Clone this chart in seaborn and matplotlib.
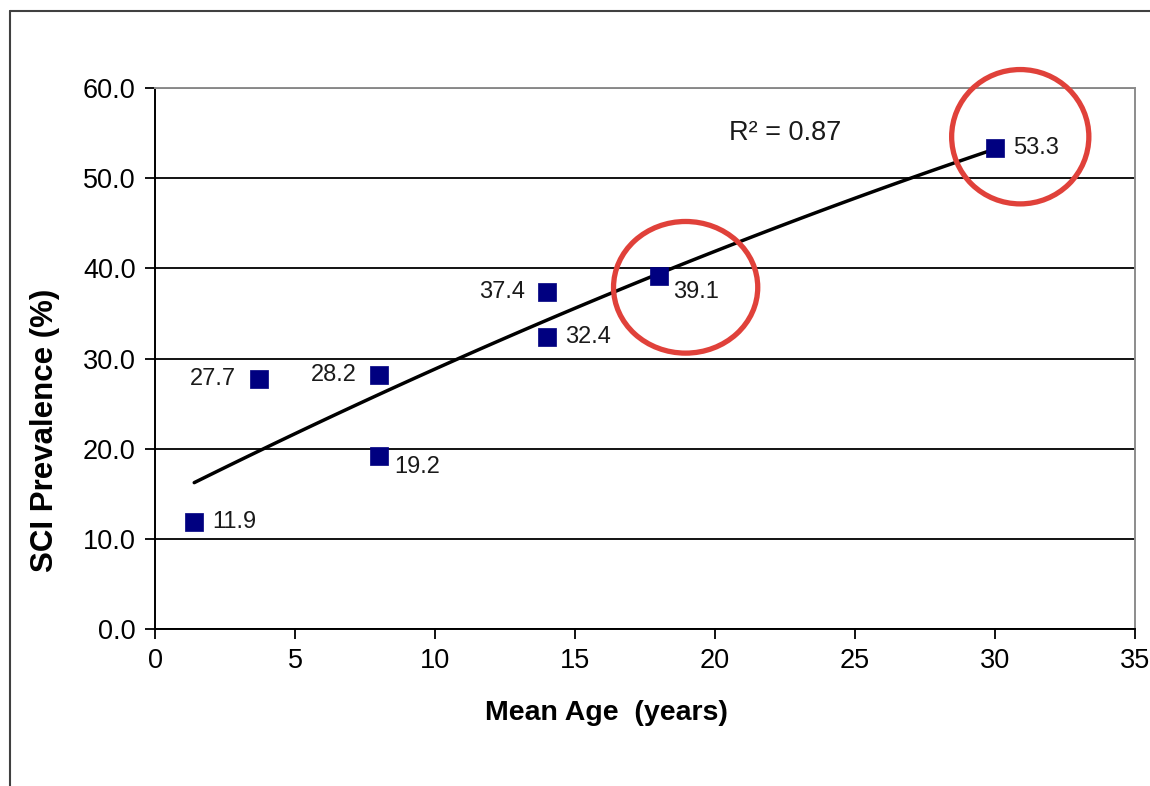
import numpy as np
import pandas as pd
import matplotlib.pyplot as plt
import seaborn as sns
from matplotlib.patches import Ellipse
from matplotlib.lines import Line2D

# data
mean_age = [1.4, 3.7, 8.0, 8.0, 14.0, 14.0, 18.0, 30.0]
prevalence = [11.9, 27.7, 28.2, 19.2, 37.4, 32.4, 39.1, 53.3]
# label offsets in points (dx, dy) and alignment per point
label_dx = [13, -16, -16, 11, -16, 13, 10, 13]
label_dy = [0, 0, 0, -8, 0, 0, -11, 0]
label_ha = ["left", "right", "right", "left", "right", "left", "left", "left"]
# highlighted points (circled in red): centre, width, height in data units
circle_x = [30.9, 18.95]
circle_y = [54.6, 37.9]
circle_w = [4.9, 5.15]
circle_h = [14.9, 14.6]

df = pd.DataFrame({"age": mean_age, "prev": prevalence})

sns.set_style("white")
plt.rcParams["font.family"] = ["Liberation Sans", "DejaVu Sans"]

fig = plt.figure(figsize=(11.5, 7.86), dpi=100)
ax = fig.add_axes([0.1348, 0.1997, 0.987 - 0.1348, 0.888 - 0.1997])

# quadratic trend line (Excel-style polynomial trendline)
sns.regplot(data=df, x="age", y="prev", order=2, ci=None, truncate=True,
            scatter=False, ax=ax, line_kws={"color": "black", "lw": 2.5})
coef = np.polyfit(df["age"], df["prev"], 2)
fit = np.polyval(coef, df["age"])
r2 = 1 - np.sum((df["prev"] - fit) ** 2) / np.sum((df["prev"] - df["prev"].mean()) ** 2)
print(f"R2 = {r2:.3f}")

sns.scatterplot(data=df, x="age", y="prev", marker="s", s=150, color="#000080",
                edgecolor="#000080", linewidth=0.5, ax=ax, zorder=5)

for x, y, dx, dy, ha in zip(mean_age, prevalence, label_dx, label_dy, label_ha):
    ax.annotate(f"{y:.1f}", (x, y), xytext=(dx, dy), textcoords="offset points",
                ha=ha, va="center", fontsize=17, color="#1a1a1a")

ax.text(20.5, 55.0, "R² = 0.87", fontsize=19.5, ha="left", va="center", color="#1a1a1a")

for cx, cy, w, h in zip(circle_x, circle_y, circle_w, circle_h):
    ax.add_patch(Ellipse((cx, cy), w, h, fill=False, edgecolor="#e0413a",
                         lw=3.8, clip_on=False, zorder=6))

ax.set_xlim(0, 35)
ax.set_ylim(0, 60)
ax.set_xticks(range(0, 36, 5))
ax.set_yticks(range(0, 61, 10))
ax.set_yticklabels([f"{v:.1f}" for v in range(0, 61, 10)])
ax.tick_params(axis="both", labelsize=19.5, length=7, width=1.3, direction="out",
               colors="black", left=True, bottom=True)
ax.tick_params(axis="y", pad=7)
ax.tick_params(axis="x", pad=7)

ax.yaxis.grid(True, color="black", lw=1.3)
ax.xaxis.grid(False)
ax.set_axisbelow(True)

for side in ["left", "bottom"]:
    ax.spines[side].set_color("black")
    ax.spines[side].set_linewidth(1.4)
for side in ["top", "right"]:
    ax.spines[side].set_color("#8c8c8c")
    ax.spines[side].set_linewidth(1.4)

ax.set_xlabel("")
ax.set_ylabel("")
# axis titles sit off-centre in the original chart
fig.text(606 / 1150, 1 - 713 / 786, "Mean Age  (years)", fontsize=20.5,
         fontweight="bold", ha="center", va="center", color="black")
fig.text(45 / 1150, 1 - 430 / 786, "SCI Prevalence (%)", fontsize=22.5,
         fontweight="bold", ha="center", va="center", rotation=90, color="black")

# outer chart frame (cropped at right and bottom)
fig.add_artist(Line2D([10 / 1150, 10 / 1150], [0, 1 - 11 / 786], color="#404040", lw=1.5))
fig.add_artist(Line2D([10 / 1150, 1], [1 - 11 / 786, 1 - 11 / 786], color="#404040", lw=1.5))

fig.savefig("out.png", dpi=100)
